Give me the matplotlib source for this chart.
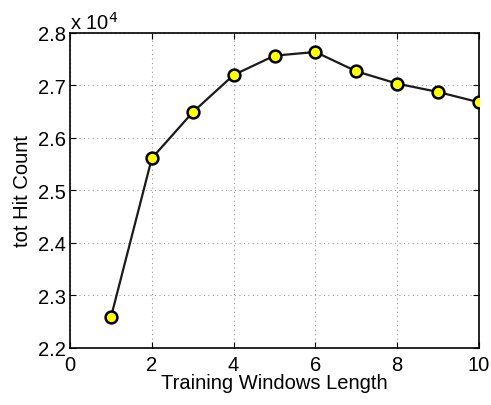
import matplotlib
matplotlib.use("Agg")
import matplotlib.pyplot as plt

# window length vs total hit count
window_len = [1, 2, 3, 4, 5, 6, 7, 8, 9, 10]
hit_count = [22584, 25613, 26490, 27200, 27568, 27638, 27270, 27035, 26876, 26680]

plt.rcParams['font.family'] = ['Liberation Sans', 'DejaVu Sans']
plt.rcParams['font.size'] = 14.5

fig = plt.figure(figsize=(4.91, 4.06), dpi=100)
ax = fig.add_axes([0.1426, 0.1404, 0.8330, 0.7759])

ax.plot(window_len, [v / 1e4 for v in hit_count], '-o', color='#1a1a1a', lw=1.6,
        markersize=8.5, markerfacecolor='yellow', markeredgecolor='black',
        markeredgewidth=1.8, zorder=3)

ax.set_xlim(0, 10)
ax.set_ylim(2.2, 2.8)
ax.set_xticks(range(0, 11, 2))
ax.set_yticks([2.2, 2.3, 2.4, 2.5, 2.6, 2.7, 2.8])
ax.set_yticklabels(['2.2', '2.3', '2.4', '2.5', '2.6', '2.7', '2.8'])
ax.grid(True, linestyle=(0, (1, 3)), color='#999999', lw=0.8)
ax.tick_params(direction='in', length=4, width=0.8, top=True, right=True)
ax.tick_params(axis='x', pad=5)
ax.tick_params(axis='y', pad=3)
for s in ax.spines.values():
    s.set_linewidth(1.2)

ax.set_xlabel('Training Windows Length', labelpad=-1)
ax.set_ylabel('tot Hit Count', labelpad=4)
ax.text(0.0, 1.0, r'x 10$^{4}$', transform=ax.transAxes, ha='left', va='bottom',
        fontsize=14.5)

fig.savefig('out.png', dpi=100)
